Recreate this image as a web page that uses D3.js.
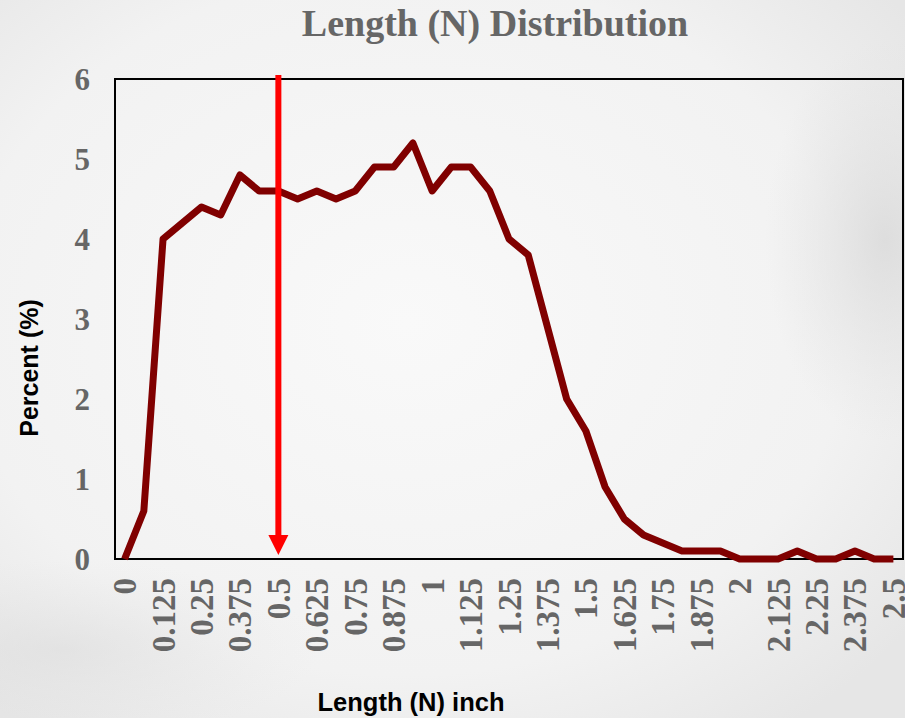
<!DOCTYPE html>
<html>
<head>
<meta charset="utf-8">
<script src="https://cdn.jsdelivr.net/npm/d3@7"></script>
<style>
  html, body { margin: 0; padding: 0; background: #f1f1f1; }
  svg { display: block; }
  .tick-lbl { font-family: "Liberation Serif", "Times New Roman", serif; font-weight: bold; fill: #666; }
</style>
</head>
<body>
<div id="chart"></div>
<script>
// length classes (inch), one point every 1/16"
const lengths = ["0","0.0625","0.125","0.1875","0.25","0.3125","0.375","0.4375","0.5","0.5625",
  "0.625","0.6875","0.75","0.8125","0.875","0.9375","1","1.0625","1.125","1.1875",
  "1.25","1.3125","1.375","1.4375","1.5","1.5625","1.625","1.6875","1.75","1.8125",
  "1.875","1.9375","2","2.0625","2.125","2.1875","2.25","2.3125","2.375","2.4375","2.5"];

// percent of fibres in each class
const percent = [0, 0.6, 4.0, 4.2, 4.4, 4.3, 4.8, 4.6, 4.6, 4.5,
  4.6, 4.5, 4.6, 4.9, 4.9, 5.2, 4.6, 4.9, 4.9, 4.6,
  4.0, 3.8, 2.9, 2.0, 1.6, 0.9, 0.5, 0.3, 0.2, 0.1,
  0.1, 0.1, 0, 0, 0, 0.1, 0, 0, 0.1, 0, 0];

// labelled ticks on the x axis
const xTicks = ["0","0.125","0.25","0.375","0.5","0.625","0.75","0.875","1","1.125",
  "1.25","1.375","1.5","1.625","1.75","1.875","2","2.125","2.25","2.375","2.5"];
const yTicks = [0, 1, 2, 3, 4, 5, 6];

// the marker arrow sits on this length
const markLength = "0.5";

const width = 905, height = 718;
const margin = {top: 79, right: 2, bottom: 159, left: 115};

const svg = d3.select('#chart').append('svg')
  .attr('width', width)
  .attr('height', height);

// soft grey background
let defs = svg.append('defs');
let bg = defs.append('radialGradient').attr('id', 'bg').attr('cx', '45%').attr('cy', '45%').attr('r', '70%');
bg.append('stop').attr('offset', '0%').attr('stop-color', '#f9f9f9');
bg.append('stop').attr('offset', '70%').attr('stop-color', '#f2f2f2');
bg.append('stop').attr('offset', '100%').attr('stop-color', '#e6e6e6');
let blob = defs.append('radialGradient').attr('id', 'blob');
blob.append('stop').attr('offset', '0%').attr('stop-color', '#d9d9d9').attr('stop-opacity', 0.8);
blob.append('stop').attr('offset', '100%').attr('stop-color', '#e0e0e0').attr('stop-opacity', 0);

svg.append('rect').attr('width', width).attr('height', height).attr('fill', 'url(#bg)');
svg.append('ellipse').attr('cx', 885).attr('cy', 240).attr('rx', 120).attr('ry', 200).attr('fill', 'url(#blob)');
svg.append('ellipse').attr('cx', 60).attr('cy', 650).attr('rx', 260).attr('ry', 90).attr('fill', 'url(#blob)').attr('opacity', 0.6);

let x = d3.scalePoint()
  .domain(lengths)
  .range([margin.left, width - margin.right])
  .padding(0.5);

let y = d3.scaleLinear()
  .domain([0, 6])
  .range([height - margin.bottom, margin.top]);

// title
svg.append('text')
  .attr('x', 495)
  .attr('y', 36)
  .attr('text-anchor', 'middle')
  .style('font-family', '"Liberation Serif", "Times New Roman", serif')
  .style('font-weight', 'bold')
  .style('font-size', '38px')
  .style('fill', '#666')
  .text('Length (N) Distribution');

// y axis labels
let yAxis = svg.append('g')
  .attr('transform', 'translate(' + (margin.left - 25) + ',0)')
  .call(d3.axisLeft(y).tickValues(yTicks).tickFormat(d3.format('d')).tickSize(0).tickPadding(0));
yAxis.select('.domain').remove();
yAxis.selectAll('text')
  .attr('class', 'tick-lbl')
  .style('font-size', '31px')
  .attr('dy', '0.34em');

// x axis labels, turned upright
let xAxis = svg.append('g')
  .attr('transform', 'translate(0,' + (height - margin.bottom) + ')')
  .call(d3.axisBottom(x).tickValues(xTicks).tickSize(0).tickPadding(0));
xAxis.select('.domain').remove();
xAxis.selectAll('text')
  .attr('class', 'tick-lbl')
  .style('font-size', '33px')
  .attr('text-anchor', 'end')
  .attr('dy', null)
  .attr('y', 0)
  .attr('dominant-baseline', 'central')
  .attr('transform', 'translate(0,19) rotate(-90)');

// plot frame
svg.append('rect')
  .attr('x', margin.left)
  .attr('y', margin.top)
  .attr('width', width - margin.right - margin.left)
  .attr('height', height - margin.bottom - margin.top)
  .attr('fill', 'none')
  .style('stroke', '#000')
  .style('stroke-width', '2px');

// distribution line
let line = d3.line()
  .x((d, i) => x(lengths[i]))
  .y(d => y(d));

svg.append('path')
  .datum(percent)
  .attr('d', line)
  .attr('fill', 'none')
  .style('stroke', '#800000')
  .style('stroke-width', '7px')
  .style('stroke-linejoin', 'round');

// red marker arrow
let ax = x(markLength);
svg.append('line')
  .attr('x1', ax).attr('x2', ax)
  .attr('y1', margin.top - 4)
  .attr('y2', y(0) - 22)
  .style('stroke', '#ff0000')
  .style('stroke-width', '6px');
svg.append('path')
  .attr('d', d3.line()([[ax - 10, y(0) - 24], [ax + 10, y(0) - 24], [ax, y(0) - 4]]) + 'Z')
  .attr('fill', '#ff0000');

// axis titles
svg.append('text')
  .attr('x', 411)
  .attr('y', 711)
  .attr('text-anchor', 'middle')
  .style('font-family', '"Liberation Sans", Arial, sans-serif')
  .style('font-weight', 'bold')
  .style('font-size', '25.5px')
  .style('fill', '#000')
  .text('Length (N) inch');

svg.append('text')
  .attr('transform', 'translate(38,368) rotate(-90)')
  .attr('text-anchor', 'middle')
  .style('font-family', '"Liberation Sans", Arial, sans-serif')
  .style('font-weight', 'bold')
  .style('font-size', '25px')
  .style('fill', '#000')
  .text('Percent (%)');
</script>
</body>
</html>
